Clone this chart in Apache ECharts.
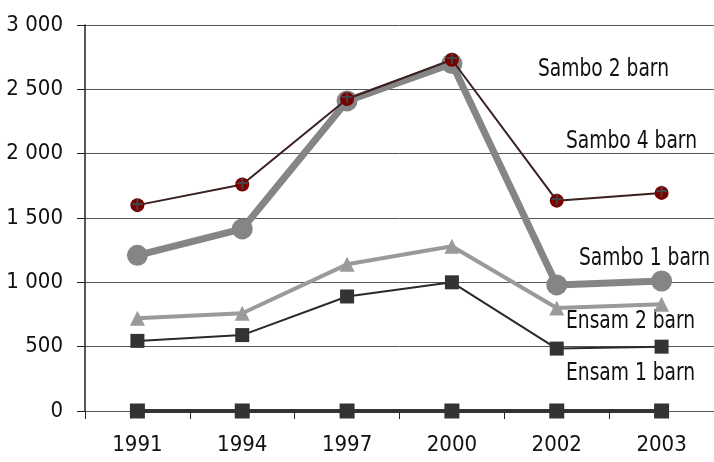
<!DOCTYPE html>
<html>
<head>
<meta charset="utf-8">
<script src="https://cdn.jsdelivr.net/npm/echarts@6/dist/echarts.min.js"></script>
<style>
  html, body { margin: 0; padding: 0; background: #fff; }
  #chart { width: 714px; height: 462px; }
</style>
</head>
<body>
<div id="chart"></div>
<script>
// år på x-axeln
var years = ['1991', '1994', '1997', '2000', '2002', '2003'];

// värden
var sambo2 = [1600, 1760, 2425, 2730, 1635, 1695];
var sambo4 = [1210, 1415, 2410, 2700, 980, 1010];
var ensam2 = [720, 760, 1140, 1280, 800, 830];
var ensam1 = [545, 590, 890, 1000, 485, 500];
var sambo1 = [0, 0, 0, 0, 0, 0];

// etiketter till höger i diagrammet
var seriesLabels = ['Sambo 2 barn', 'Sambo 4 barn', 'Sambo 1 barn', 'Ensam 2 barn', 'Ensam 1 barn'];

var FONT = '"DejaVu Sans Condensed", "Liberation Sans Narrow", sans-serif';

var chart = echarts.init(document.getElementById('chart'));

function fmt(v) {
    // tusentalsavgränsare med mellanslag
    return String(v).replace(/\B(?=(\d{3})+(?!\d))/g, ' ');
}

var labelPos = [
    [538, 69], [566, 141], [579, 258], [566, 321], [566, 373]
];

chart.setOption({
    animation: false,
    grid: { left: 85, right: -4, top: 25, bottom: 51, containLabel: false },
    xAxis: {
        type: 'category',
        data: years,
        boundaryGap: true,
        axisLine: { show: false },
        axisTick: { show: true, length: 8, lineStyle: { color: '#222', width: 1 } },
        axisLabel: { fontFamily: FONT, fontSize: 22, color: '#111', margin: 23 }
    },
    yAxis: {
        type: 'value',
        min: 0,
        max: 3000,
        interval: 500,
        axisLine: { show: true, lineStyle: { color: '#222', width: 1.5 } },
        axisTick: { show: true, length: 8, lineStyle: { color: '#222' } },
        axisLabel: { fontFamily: FONT, fontSize: 22, color: '#111', margin: 22, formatter: fmt },
        splitLine: { show: true, lineStyle: { color: '#555', width: 1 } }
    },
    series: [
        {
            name: seriesLabels[4],
            type: 'line',
            data: sambo1,
            z: 1,
            symbol: 'rect',
            symbolSize: 15,
            lineStyle: { color: '#333', width: 4 },
            itemStyle: { color: '#333' }
        },
        {
            name: seriesLabels[3],
            type: 'line',
            data: ensam1,
            z: 2,
            symbol: 'rect',
            symbolSize: 14,
            lineStyle: { color: '#2a2a2a', width: 2 },
            itemStyle: { color: '#333' }
        },
        {
            name: seriesLabels[2],
            type: 'line',
            data: ensam2,
            z: 3,
            symbol: 'triangle',
            symbolSize: 15,
            lineStyle: { color: '#9a9a9a', width: 4 },
            itemStyle: { color: '#9a9a9a' }
        },
        {
            name: seriesLabels[1],
            type: 'line',
            data: sambo4,
            z: 4,
            symbol: 'circle',
            symbolSize: 21,
            lineStyle: { color: '#858585', width: 7 },
            itemStyle: { color: '#858585' }
        },
        {
            name: seriesLabels[0],
            type: 'line',
            data: sambo2,
            z: 5,
            symbol: 'circle',
            symbolSize: 14,
            lineStyle: { color: '#3b2020', width: 2 },
            itemStyle: { color: '#7a0000' },
            label: {
                show: true,
                position: 'inside',
                formatter: '+',
                color: '#444',
                fontFamily: 'DejaVu Sans',
                fontSize: 17,
                fontWeight: 'bold'
            }
        }
    ],
    graphic: seriesLabels.map(function (t, i) {
        return {
            type: 'text',
            x: labelPos[i][0],
            y: labelPos[i][1] + 1,
            scaleX: 0.865,
            style: { text: t, font: '24px ' + FONT, fill: '#111', textVerticalAlign: 'middle' }
        };
    })
});
</script>
</body>
</html>
